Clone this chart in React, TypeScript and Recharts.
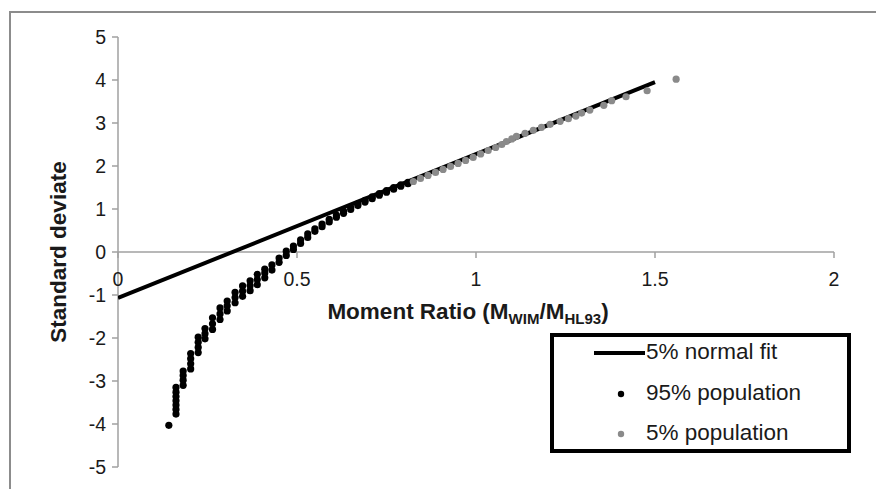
import React from "react";
import {
  ScatterChart,
  Scatter,
  XAxis,
  YAxis,
  ReferenceLine,
  Legend,
} from "recharts";

const FONT = '"Liberation Sans", Arial, sans-serif';
const AXIS_GRAY = "#a0a0a0";

// chart layout
const W = 876;
const H = 489;
const TOP = 37;
const PLOT_H = 430;
const ZERO_Y = TOP + PLOT_H / 2;

const xTicks = [0, 0.5, 1, 1.5, 2];
const yTicks = [-5, -4, -3, -2, -1, 0, 1, 2, 3, 4, 5];

const seriesNames = ["5% normal fit", "95% population", "5% population"];

// 5% normal fit
const fitX = [0, 1.5];
const fitY = [-1.07, 3.95];

// 95% population
const pop95X = [
  0.142,
  0.162, 0.162, 0.162, 0.162, 0.162, 0.162, 0.162,
  0.182, 0.182, 0.182, 0.182,
  0.203, 0.203, 0.203, 0.203,
  0.224, 0.224, 0.224, 0.224,
  0.243, 0.243, 0.243,
  0.264, 0.264, 0.264,
  0.285, 0.285, 0.285,
  0.305, 0.305, 0.305,
  0.327, 0.327, 0.327,
  0.348, 0.348, 0.348,
  0.369, 0.369, 0.369,
  0.389, 0.389, 0.389,
  0.41, 0.41, 0.41,
  0.43, 0.43, 0.45, 0.45, 0.47, 0.47, 0.49, 0.49, 0.51, 0.51,
  0.53, 0.53, 0.55, 0.55, 0.57, 0.57, 0.59, 0.59, 0.61, 0.61,
  0.63, 0.63, 0.65, 0.65, 0.67, 0.67, 0.69, 0.69, 0.71, 0.71,
  0.73, 0.73, 0.75, 0.75, 0.77, 0.77, 0.79, 0.79, 0.81, 0.81,
];
const pop95Y = [
  -4.03,
  -3.77, -3.66, -3.56, -3.46, -3.36, -3.26, -3.15,
  -3.1, -2.98, -2.87, -2.77,
  -2.72, -2.6, -2.48, -2.36,
  -2.34, -2.22, -2.1, -1.98,
  -2.02, -1.9, -1.78,
  -1.8, -1.67, -1.53,
  -1.57, -1.44, -1.3,
  -1.37, -1.25, -1.14,
  -1.18, -1.06, -0.94,
  -1.03, -0.91, -0.79,
  -0.9, -0.78, -0.67,
  -0.76, -0.64, -0.52,
  -0.6, -0.49, -0.4,
  -0.42, -0.3, -0.24, -0.14, -0.08, 0.02, 0.06, 0.14, 0.2, 0.28,
  0.34, 0.42, 0.48, 0.54, 0.59, 0.65, 0.7, 0.76, 0.81, 0.86,
  0.9, 0.95, 0.99, 1.04, 1.08, 1.12, 1.16, 1.2, 1.24, 1.28,
  1.32, 1.36, 1.39, 1.43, 1.46, 1.5, 1.53, 1.56, 1.59, 1.62,
];

// 5% population
const pop5X = [
  0.825, 0.845, 0.866, 0.887, 0.908, 0.929, 0.95, 0.971, 0.992, 1.013,
  1.034, 1.055, 1.072, 1.085, 1.1, 1.113, 1.137, 1.16, 1.183, 1.207,
  1.235, 1.258, 1.279, 1.295, 1.318, 1.357, 1.379, 1.419, 1.478, 1.559,
];
const pop5Y = [
  1.64, 1.71, 1.78, 1.85, 1.92, 1.99, 2.06, 2.13, 2.2, 2.28,
  2.36, 2.43, 2.5, 2.57, 2.63, 2.69, 2.76, 2.83, 2.9, 2.97,
  3.04, 3.1, 3.16, 3.23, 3.3, 3.41, 3.52, 3.61, 3.75, 4.02,
];

const fitData = fitX.map((x, i) => ({ x, y: fitY[i] }));
const pop95Data = pop95X.map((x, i) => ({ x, y: pop95Y[i] }));
const pop5Data = pop5X.map((x, i) => ({ x, y: pop5Y[i] }));

const dot = (color: string) => (props: any) =>
  <circle cx={props.cx} cy={props.cy} r={3.6} fill={color} />;

const XTick = (props: any) => {
  const { x, payload } = props;
  return (
    <g>
      <line x1={x} x2={x} y1={ZERO_Y} y2={ZERO_Y + 6} stroke={AXIS_GRAY} strokeWidth={1.5} />
      <text x={x} y={ZERO_Y + 34} textAnchor="middle" fontSize={19.5} fontFamily={FONT} fill="#1a1a1a">
        {payload.value}
      </text>
    </g>
  );
};

const YTick = (props: any) => {
  const { x, y, payload } = props;
  return (
    <text x={x} y={y} textAnchor="end" dominantBaseline="central" fontSize={19.5} fontFamily={FONT} fill="#1a1a1a">
      {payload.value}
    </text>
  );
};

const XTitle = (props: any) => {
  const vb = props.viewBox || {};
  const cx = vb.x + vb.width / 2 - 8;
  return (
    <text x={cx} y={ZERO_Y + 67} textAnchor="middle" fontSize={22.5} fontWeight="bold" fontFamily={FONT} fill="#1a1a1a">
      Moment Ratio (M
      <tspan fontSize={15} dy={5}>WIM</tspan>
      <tspan dy={-5}>/M</tspan>
      <tspan fontSize={15} dy={5}>HL93</tspan>
      <tspan dy={-5}>)</tspan>
    </text>
  );
};

const YTitle = (props: any) => {
  const vb = props.viewBox || {};
  const cx = vb.x;
  const cy = vb.y + vb.height / 2;
  return (
    <text
      x={cx}
      y={cy}
      transform={`rotate(-90 ${cx} ${cy})`}
      textAnchor="middle"
      dominantBaseline="central"
      fontSize={22.5}
      fontWeight="bold"
      fontFamily={FONT}
      fill="#1a1a1a"
    >
      Standard deviate
    </text>
  );
};

const LegendBox = (props: any) => {
  const items = [...(props.payload || [])].sort(
    (a: any, b: any) => seriesNames.indexOf(a.value) - seriesNames.indexOf(b.value)
  );
  return (
    <div
      style={{
        width: 301,
        height: 120,
        border: "4px solid #000",
        boxSizing: "border-box",
        background: "#fff",
        position: "relative",
        fontFamily: FONT,
      }}
    >
      {items.map((it: any, i: number) => (
        <div
          key={i}
          style={{
            position: "absolute",
            left: 0,
            top: 16 + i * 40.5,
            height: 0,
            width: "100%",
          }}
        >
          <svg width={60} height={20} style={{ position: "absolute", left: 40, top: -10 }}>
            {it.type === "line" ? (
              <line x1={0} x2={51} y1={10} y2={10} stroke={it.color} strokeWidth={4} />
            ) : (
              <circle cx={27} cy={10} r={3.2} fill={it.color} />
            )}
          </svg>
          <span
            style={{
              position: "absolute",
              left: 92,
              top: -14,
              fontSize: 22.5,
              lineHeight: "26px",
              color: "#1a1a1a",
              whiteSpace: "nowrap",
            }}
          >
            {it.value}
          </span>
        </div>
      ))}
    </div>
  );
};

export default function App() {
  return (
    <div
      style={{
        position: "absolute",
        left: 0,
        top: 0,
        width: W,
        height: H,
        overflow: "hidden",
        background: "#fff",
      }}
    >
      <div
        style={{
          position: "absolute",
          left: 9,
          top: 11,
          width: W + 20,
          height: H + 20,
          border: "2px solid #8c8c8c",
        }}
      />
      <div style={{ position: "absolute", left: 0, top: 0 }}>
        <ScatterChart width={W} height={H} margin={{ top: TOP, right: 42, bottom: 21, left: 58 }}>
          <XAxis
            type="number"
            dataKey="x"
            domain={[0, 2]}
            ticks={xTicks}
            axisLine={false}
            tickLine={false}
            tick={<XTick />}
            height={1}
            label={<XTitle />}
            allowDataOverflow
          />
          <YAxis
            type="number"
            dataKey="y"
            domain={[-5, 5]}
            ticks={yTicks}
            width={60}
            axisLine={{ stroke: AXIS_GRAY, strokeWidth: 1.5 }}
            tickLine={{ stroke: AXIS_GRAY, strokeWidth: 1.5 }}
            tickSize={6}
            tickMargin={6}
            tick={<YTick />}
            label={<YTitle />}
            allowDataOverflow
          />
          <ReferenceLine y={0} stroke={AXIS_GRAY} strokeWidth={1.5} />
          <Scatter
            name="5% normal fit"
            data={fitData}
            fill="#000"
            line={{ stroke: "#000", strokeWidth: 4 }}
            shape={() => <g />}
            legendType="line"
            isAnimationActive={false}
          />
          <Scatter
            name="95% population"
            data={pop95Data}
            fill="#000"
            shape={dot("#000")}
            legendType="circle"
            isAnimationActive={false}
          />
          <Scatter
            name="5% population"
            data={pop5Data}
            fill="#8a8a8a"
            shape={dot("#8a8a8a")}
            legendType="circle"
            isAnimationActive={false}
          />
          <Legend
            layout="horizontal"
            verticalAlign="middle"
            align="center"
            content={<LegendBox />}
            wrapperStyle={{ position: "absolute", left: 550, top: 333, width: 301, height: 120 }}
          />
        </ScatterChart>
      </div>
    </div>
  );
}
